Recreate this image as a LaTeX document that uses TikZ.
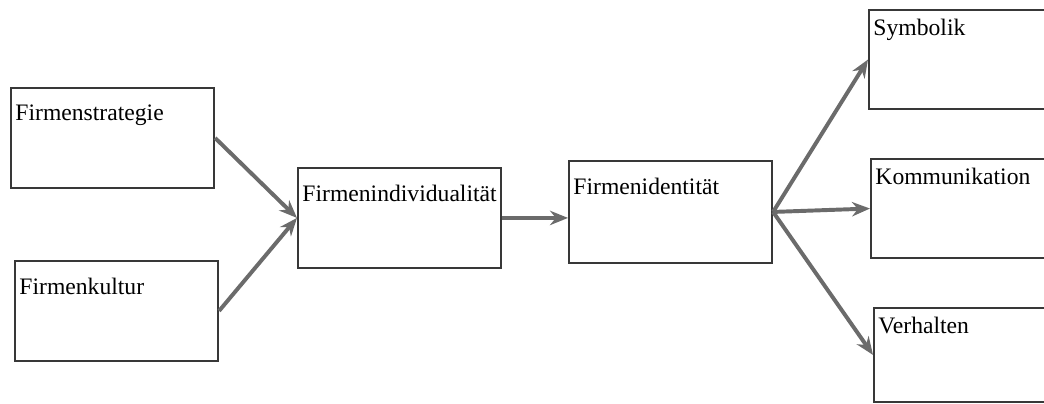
\documentclass[tikz,border=0pt]{standalone}
\usepackage{fontspec}
\setmainfont{Liberation Serif}
\usetikzlibrary{arrows.meta}
\tikzset{
	box/.style={draw=black!78, line width=1.3pt, anchor=north west, inner sep=0pt,
		minimum width=5.08cm, minimum height=2.5cm},
	boxtext/.style={anchor=north west, inner sep=0pt, xshift=0.13cm, yshift=#1,
		font=\fontsize{16.8}{20}\selectfont},
	boxtext/.default=-0.45cm,
	flow/.style={draw=black!58, line width=2.8pt, -{Stealth[length=0.45cm,width=0.36cm]}}
}
\begin{document}
\begin{tikzpicture}[x=0.025cm, y=-0.025cm]
			%%%%% START %%%%%
			\useasboundingbox (0, 0) rectangle (1044, 403);
			\clip (0, 0) rectangle (1044, 403);
			
			\node[box, label={[boxtext]north west:Firmenstrategie}] (strat) at (10, 87) {};
			\node[box, label={[boxtext]north west:Firmenkultur}] (kultur) at (14, 260) {};
			
			\node[box, label={[boxtext]north west:Firmenindividualität}] (indiv) at (297, 167) {};
			\node[box, minimum height=2.55cm, label={[boxtext]north west:Firmenidentität}] (ident) at (568, 160) {};
			
			\node[box, minimum height=2.48cm, label={[boxtext=-0.25cm]north west:Symbolik}] (symb) at (868, 9) {};
			\node[box, minimum height=2.48cm, label={[boxtext=-0.25cm]north west:Kommunikation}] (komm) at (870, 158) {};
			\node[box, minimum height=2.35cm, label={[boxtext=-0.25cm]north west:Verhalten}] (verh) at (873, 307) {};
			
			\draw[flow] (strat.east) -- (indiv.west);
			\draw[flow] (kultur.east) -- (indiv.west);
			\draw[flow] (indiv.east) -- (indiv.east -| ident.west);
			
			\draw[flow] (ident.east) -- (symb.west);
			\draw[flow] (ident.east) -- (komm.west);
			\draw[flow] (ident.east) -- (verh.west);
			
			%%%%% END %%%%%
\end{tikzpicture}
\end{document}
